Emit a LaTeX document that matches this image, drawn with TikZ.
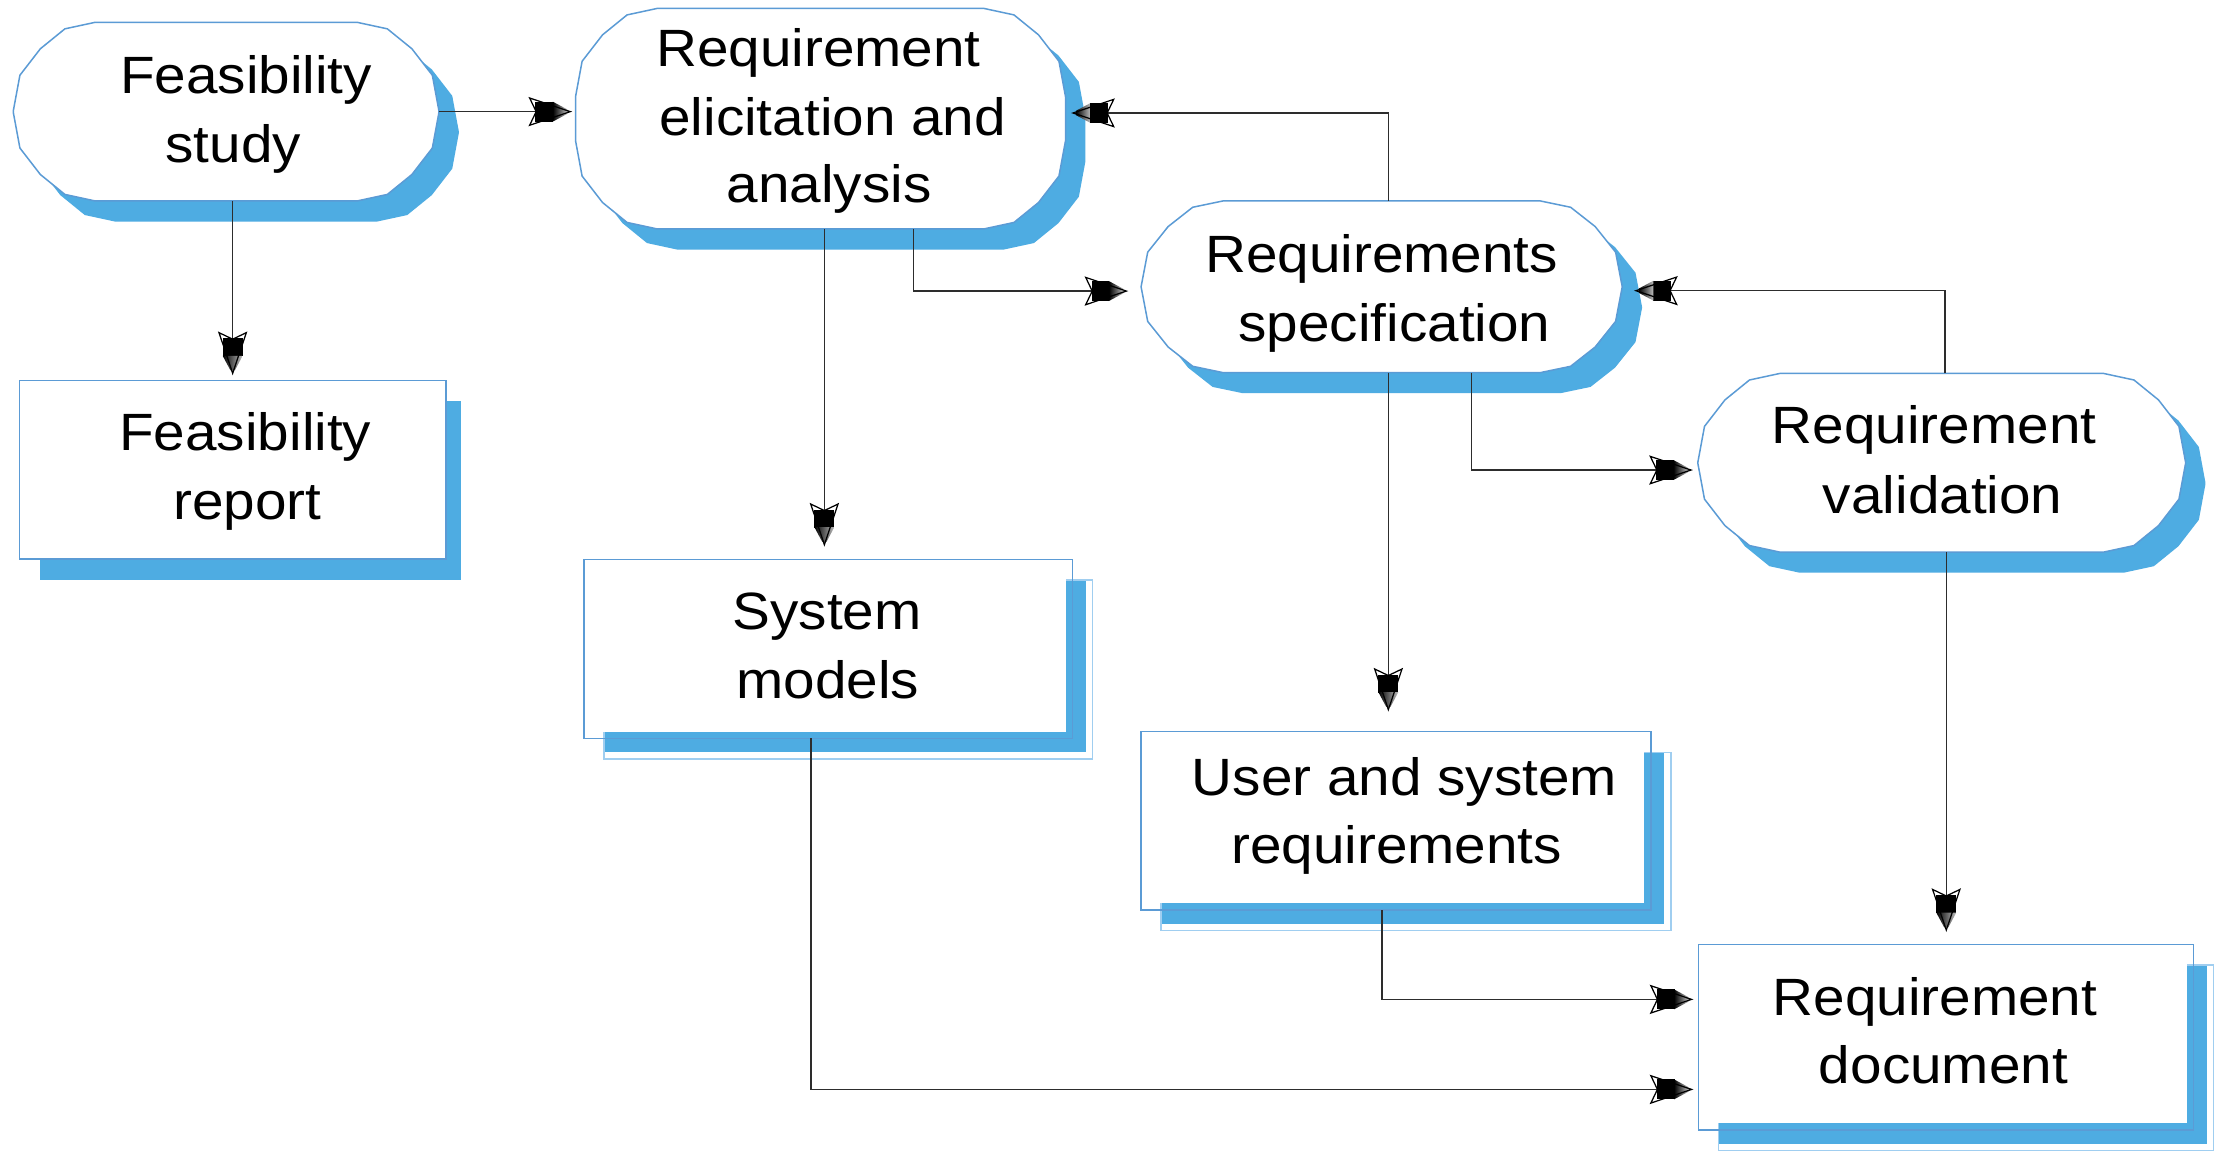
\documentclass[tikz,border=0pt]{standalone}
\usepackage{fontspec}
\setmainfont{Liberation Sans}[FakeStretch=1.08]
\usetikzlibrary{calc,decorations.markings}

\definecolor{shadowblue}{RGB}{78,172,226}
\definecolor{edgeblue}{RGB}{91,155,213}
\definecolor{paleedge}{RGB}{160,206,240}
\definecolor{linegray}{RGB}{45,45,45}

% geometry of the faceted capsule corners and of the drop shadows
\newcommand\capRx{57.5}
\newcommand\shx{14}
\newcommand\shy{14.5}
\newcommand\gapw{4.8}

% faceted capsule outline: style, x0, y0, x1, y1, corner height
\newcommand\capsulepath[6]{%
  \path[#1] ({#2+\capRx},{#3}) -- ({#4-\capRx},{#3})
    -- ({#4-0.63*\capRx},{#3+0.074*#6}) -- ({#4-0.33*\capRx},{#3+0.3*#6})
    -- ({#4-0.08*\capRx},{#3+0.6*#6}) -- ({#4},{#3+#6})
    -- ({#4},{#5-#6}) -- ({#4-0.08*\capRx},{#5-0.6*#6})
    -- ({#4-0.33*\capRx},{#5-0.3*#6}) -- ({#4-0.63*\capRx},{#5-0.074*#6})
    -- ({#4-\capRx},{#5}) -- ({#2+\capRx},{#5})
    -- ({#2+0.63*\capRx},{#5-0.074*#6}) -- ({#2+0.33*\capRx},{#5-0.3*#6})
    -- ({#2+0.08*\capRx},{#5-0.6*#6}) -- ({#2},{#5-#6})
    -- ({#2},{#3+#6}) -- ({#2+0.08*\capRx},{#3+0.6*#6})
    -- ({#2+0.33*\capRx},{#3+0.3*#6}) -- ({#2+0.63*\capRx},{#3+0.074*#6})
    -- cycle;}

% process step: name, x0, y0, x1, y1, corner height
\newcommand\capsule[6]{%
  \capsulepath{fill=shadowblue}{#2+\shx}{#3+\shy}{#4+\shx}{#5+\shy}{#6}
  \capsulepath{fill=white, draw=edgeblue, line width=0.3pt}{#2}{#3}{#4}{#5}{#6}
  \node[hold, minimum width={(#4-#2)*0.1mm}, minimum height={(#5-#3)*0.1mm}]
    (#1) at ({(#2+#4)/2},{(#3+#5)/2}) {};}

% document box: name, x0, y0, x1, y1
\newcommand\docbox[5]{%
  \fill[shadowblue] ({#2+\shx},{#3+\shy}) rectangle ({#4+\shx-\gapw},{#5+\shy-\gapw});
  \draw[paleedge, line width=0.3pt] ({#2+\shx},{#3+\shy}) rectangle ({#4+\shx},{#5+\shy});
  \fill[white] ({#2},{#3}) rectangle ({#4-\gapw},{#5-\gapw});
  \draw[edgeblue, line width=0.3pt] ({#2},{#3}) rectangle ({#4},{#5});
  \node[hold, minimum width={(#4-#2)*0.1mm}, minimum height={(#5-#3)*0.1mm}]
    (#1) at ({(#2+#4)/2},{(#3+#5)/2}) {};}

% arrow head: open notched kite with a dark block fading towards the tip
\newcommand\kitetip{%
  \fill[white] (0,0) -- (-28.6,9.6) -- (-24,0) -- (-28.6,-9.6) -- cycle;
  \fill[black] (-24.5,-7) rectangle (-12,7);
  \shade[left color=black, right color=black!25]
    (-12.3,-7) -- (-2,-1.5) -- (-2,1.5) -- (-12.3,7) -- cycle;
  \draw[black, line width=0.25pt, line join=miter]
    (0,0) -- (-28.6,9.6) -- (-24,0) -- (-28.6,-9.6) -- cycle;}

\tikzset{
  hold/.style={rectangle, inner sep=0pt, outer sep=0pt, draw=none},
  txt/.style={anchor=base, inner sep=0pt, font=\fontsize{10.5}{12.6}\selectfont},
  conn/.style={draw=linegray, line width=0.3pt,
    postaction={decorate},
    decoration={markings, mark=at position 1 with {\kitetip}}},
}

\begin{document}
\begin{tikzpicture}[x=0.1mm, y=-0.1mm]
\fill[white] (0,0) rectangle (1568,825);
\useasboundingbox (0,0) rectangle (1568,825);

% process steps
\capsule{fs}{9.4}{15.7}{308.6}{141.3}{62}
\capsule{el}{404.7}{5.9}{749.2}{161}{62}
\capsule{sp}{802.4}{141.3}{1140.6}{262}{60}
\capsule{va}{1193.9}{262.6}{1536.7}{388.2}{62}

% produced documents
\fill[shadowblue] (28.1,282) rectangle (323.9,407.8);
\filldraw[fill=white, draw=edgeblue, line width=0.3pt] (13.6,267.7) rectangle (313.6,393);
\node[hold, minimum width=30mm, minimum height=12.53mm] (fr) at (163.6,330.35) {};
\docbox{sm}{410.6}{393.3}{754.1}{519.2}
\docbox{us}{802.3}{514.5}{1160.8}{639.9}
\docbox{rd}{1194.2}{664}{1542.3}{794.5}

% labels
\node[txt] (fs1) at (173,66) {Feasibility};
\node[txt] (fs2) at (164,114) {study};
\node[txt] (el1) at (575.5,46.5) {Requirement};
\node[txt] (el2) at (585.5,95) {elicitation and};
\node[txt] (el3) at (583,142.5) {analysis};
\node[txt] (sp1) at (971.5,191.5) {Requirements};
\node[txt] (sp2) at (980.5,240) {specification};
\node[txt] (va1) at (1360,312) {Requirement};
\node[txt] (va2) at (1366,361) {validation};
\node[txt] (fr1) at (172.5,317) {Feasibility};
\node[txt] (fr2) at (174,365.2) {report};
\node[txt] (sm1) at (581.5,442.5) {System};
\node[txt] (sm2) at (582,491) {models};
\node[txt] (us1) at (987.5,559) {User and system};
\node[txt] (us2) at (982,607) {requirements};
\node[txt] (rd1) at (1360.5,713.7) {Requirement};
\node[txt] (rd2) at (1366.5,761.7) {document};

% flow between steps and documents
\draw[conn] (fs.east) -- ($(fs.east -| el.west)+(-3.7,0)$);
\draw[conn] (fs.south -| fr.north) -- ($(fr.north)+(0,-5.2)$);
\draw[conn] ($(el.south)+(2.7,0)$) coordinate (a3) -- ($(a3 |- sm.north)+(0,-10.3)$);
\draw[conn] ($(el.south)+(65.4,0)$) |- ($(sp.west)+(-10.4,3)$);
\draw[conn] ($(sp.north)+(4.7,0)$) |- ($(el.east)+(5.3,-4)$);
\draw[conn] ($(sp.south)+(4.7,0)$) coordinate (a6) -- ($(a6 |- us.north)+(0,-15.5)$);
\draw[conn] ($(sp.south)+(63.1,0)$) |- ($(va.west)+(-4.9,5.1)$);
\draw[conn] ($(va.north)+(2.4,0)$) |- ($(sp.east)+(9.7,2.75)$);
\draw[conn] ($(va.south)+(3.2,0)$) coordinate (a9) -- ($(a9 |- rd.north)+(0,-10)$);
\draw[conn] ($(us.south)+(-9.85,0)$) |- ($(rd.west)+(-4.8,-26.55)$);
\draw[conn] ($(sm.south)+(-12.05,0)$) |- ($(rd.west)+(-4.8,36.75)$);
\end{tikzpicture}
\end{document}
